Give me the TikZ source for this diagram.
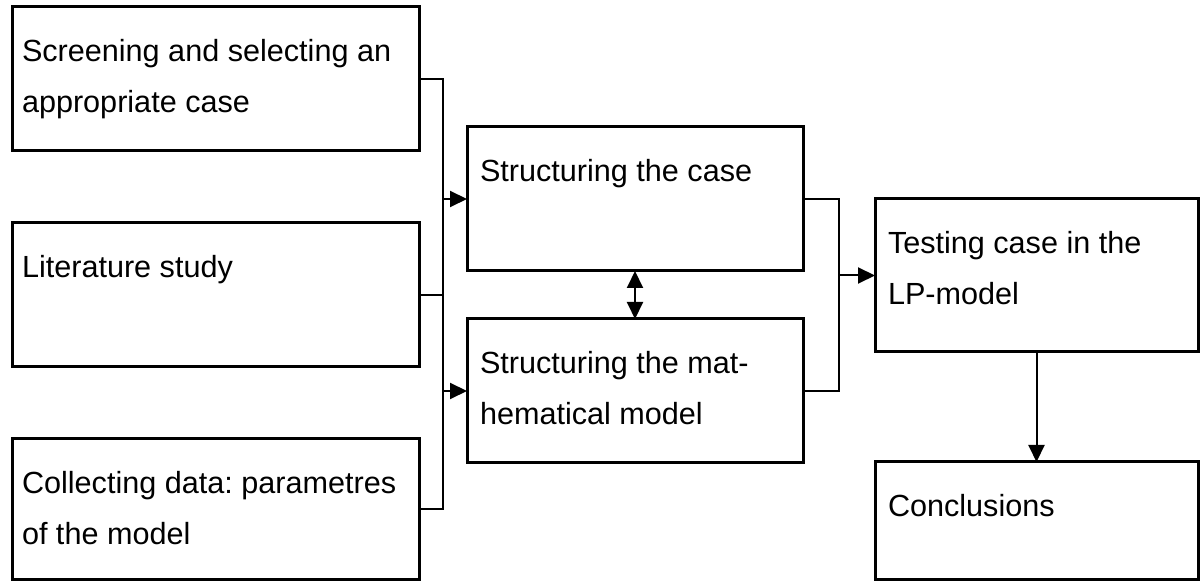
\documentclass[tikz,border=0pt]{standalone}
\usepackage{fontspec}
\setmainfont{Liberation Sans}
\frenchspacing
\usetikzlibrary{arrows.meta,positioning}

\begin{document}
\begin{tikzpicture}[x=0.5pt,y=-0.5pt,>={Triangle[length=8.5pt,width=8pt]},line width=1pt,node distance=36pt]
		\tikzstyle{stage}=[rectangle, draw=black, line width=1.5pt, outer sep=0pt, inner xsep=6.5pt, inner ysep=16pt, font=\fontsize{15.3pt}{25.5pt}\selectfont]
		\tikzstyle{every edge}=[draw=black, line width=1pt]
		
		\useasboundingbox (0,0) rectangle (1200,582);
		
		\node[stage, inner xsep=5pt, anchor=north west] (screen) at (12,7) {\parbox[c][40pt][t]{193.5pt}{Screening and selecting an\\appropriate case}};
		\node[stage, inner xsep=5pt] (lit) [below=of screen] {\parbox[c][40pt][t]{193.5pt}{Literature study}};
		\node[stage, inner xsep=5pt] (data) [below=of lit] {\parbox[c][38.5pt][t]{193.5pt}{Collecting data: parametres\\of the model}};
		\node[stage, anchor=north west] (case) at (467,127) {\parbox[c][40pt][t]{155pt}{Structuring the case}};
		\node[stage] (math) [below=24pt of case] {\parbox[c][40pt][t]{155pt}{Structuring the mat-\\hematical model}};
		\node[stage, anchor=north west] (test) at (875,199) {\parbox[c][44.5pt][t]{148.5pt}{Testing case in the\\LP-model}};
		\node[stage] (concl) [below=55pt of test] {\parbox[c][27pt][t]{148.5pt}{Conclusions}};
		
		% junction lines
		\coordinate (lbus) at ([xshift=12pt]screen.east);
		\coordinate (rbus) at ([xshift=18pt]case.east);
		
		\draw (screen.east) -- (lbus) |- (data.east);
		\draw (lit.east) -- (lit.east -| lbus);
		\draw[->] (case.west -| lbus) -- (case.west);
		\draw[->] (math.west -| lbus) -- (math.west);
		\draw (case.east) -- (rbus) |- (math.east);
		\draw[->] (test.west -| rbus) -- (test.west);
		\path (test) edge[->] (concl);
		\path (case) edge[<->] (math);
		\end{tikzpicture}
\end{document}
